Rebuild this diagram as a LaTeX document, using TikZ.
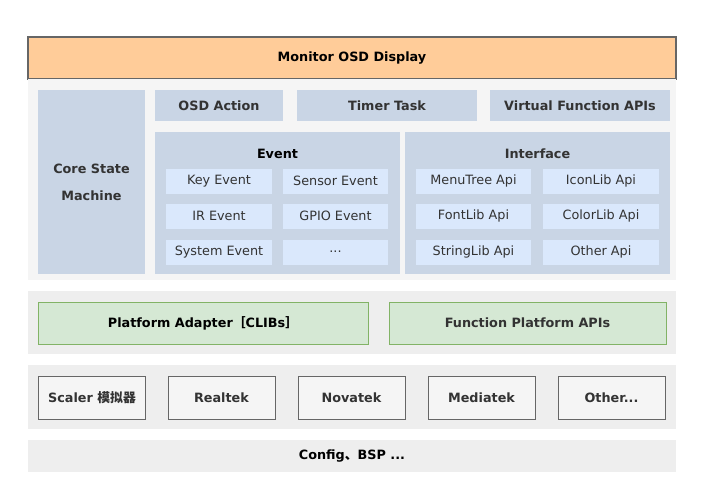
\documentclass[tikz,border=0pt]{standalone}
\usepackage{fontspec}
\setmainfont{DejaVu Sans}
\newfontfamily\cjk{Noto Sans CJK SC}
\definecolor{orangefill}{HTML}{FFCC99}
\definecolor{panelA}{HTML}{F5F5F5}
\definecolor{panelB}{HTML}{EEEEEE}
\definecolor{steel}{HTML}{C9D5E5}
\definecolor{item}{HTML}{DAE8FC}
\definecolor{greenfill}{HTML}{D5E8D4}
\definecolor{greenline}{HTML}{82B366}
\definecolor{darkline}{HTML}{666666}
\definecolor{txt}{HTML}{333333}
\begin{document}
\begin{tikzpicture}[x=1pt,y=-1pt,
  box/.style={rectangle,inner sep=0pt,text=txt,font=\fontsize{12.8}{15}\selectfont},
  bold/.style={box,font=\fontsize{12.8}{15}\selectfont\bfseries},
  panel/.style={box,minimum width=648pt},
  steelbox/.style={bold,fill=steel},
  itembox/.style={box,fill=item,minimum height=25pt},
  greenbox/.style={bold,fill=greenfill,draw=greenline,minimum height=42pt},
  chipbox/.style={bold,fill=panelA,draw=darkline,minimum width=107pt,minimum height=43pt}]
 \useasboundingbox (0,0) rectangle (715,498);
 \fill[white] (0,0) rectangle (715,498);

 % top layer
 \node (osd) at (352,58) [panel,bold,text=black,fill=orangefill,draw=darkline,line width=1.2pt,minimum height=42pt] {Monitor OSD Display};
 \node (core) at (352,179.5) [panel,fill=panelA,minimum height=201pt] {};
 \node (csm) at (91.5,182) [steelbox,minimum width=107pt,minimum height=184pt,align=center] {Core State\\[12pt]Machine};
 \node (action) at (219,105.5) [steelbox,minimum width=128pt,minimum height=31pt] {OSD Action};
 \node (timer) at (387,105.5) [steelbox,minimum width=180pt,minimum height=31pt] {Timer Task};
 \node (virtual) at (580,105.5) [steelbox,minimum width=180pt,minimum height=31pt] {Virtual Function APIs};

 % event group
 \node (event) at (277.5,203) [steelbox,minimum width=245pt,minimum height=142pt] {};
 \node (eventt) at (277.5,154) [bold,text=black] {Event};
 \node (key) at (219,181) [itembox,minimum width=106pt] {Key Event};
 \node (sensor) at (335.5,181) [itembox,minimum width=105pt] {Sensor Event};
 \node (ir) at (219,216) [itembox,minimum width=106pt] {IR Event};
 \node (gpio) at (335.5,216) [itembox,minimum width=105pt] {GPIO Event};
 \node (sys) at (219,252) [itembox,minimum width=106pt] {System Event};
 \node (more) at (335.5,252) [itembox,minimum width=105pt] {...};

 % interface group
 \node (iface) at (537.5,203) [steelbox,minimum width=265pt,minimum height=142pt] {};
 \node (ifacet) at (537.5,154) [bold] {Interface};
 \node (menu) at (473.5,181) [itembox,minimum width=115pt] {MenuTree Api};
 \node (icon) at (601,181) [itembox,minimum width=116pt] {IconLib Api};
 \node (font) at (473.5,216) [itembox,minimum width=115pt] {FontLib Api};
 \node (color) at (601,216) [itembox,minimum width=116pt] {ColorLib Api};
 \node (string) at (473.5,252) [itembox,minimum width=115pt] {StringLib Api};
 \node (other) at (601,252) [itembox,minimum width=116pt] {Other Api};

 % platform layer
 \node (plat) at (352,322.5) [panel,fill=panelB,minimum height=63pt] {};
 \node (adapter) at (203,323) [greenbox,text=black,minimum width=330pt] {Platform Adapter{\cjk\bfseries［}CLIBs{\cjk\bfseries］}};
 \node (func) at (527.5,323) [greenbox,minimum width=277pt] {Function Platform APIs};

 % chip layer
 \node (chips) at (352,397) [panel,fill=panelB,minimum height=64pt] {};
 \node (scaler) at (92,397.5) [chipbox] {Scaler {\cjk\bfseries 模拟器}};
 \node (realtek) at (221.5,397.5) [chipbox] {Realtek};
 \node (novatek) at (351.5,397.5) [chipbox] {Novatek};
 \node (mediatek) at (481.5,397.5) [chipbox] {Mediatek};
 \node (others) at (611.5,397.5) [chipbox] {Other...};

 % bottom
 \node (config) at (352,456) [panel,bold,text=black,fill=panelB,minimum height=32pt] {Config{\cjk 、}BSP ...};
\end{tikzpicture}
\end{document}
